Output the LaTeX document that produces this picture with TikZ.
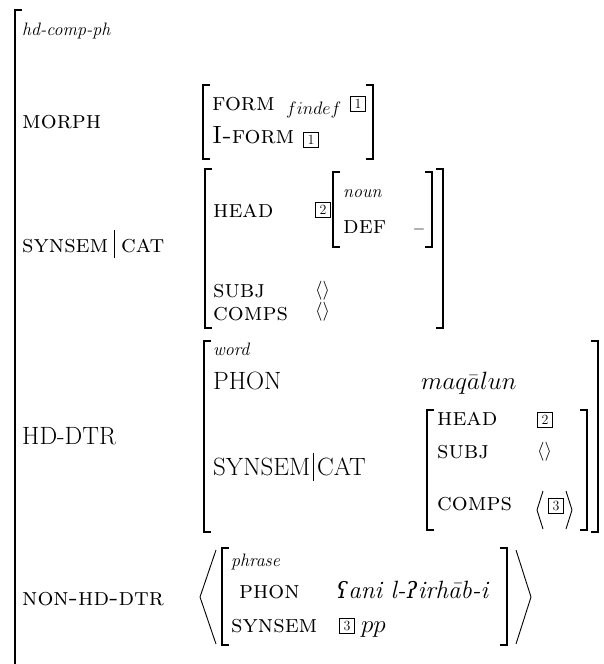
\RequirePackage{fix-cm}
\documentclass[tikz,border=0pt]{standalone}
\usepackage{fontspec}
\newfontfamily\ipafont[Scale=0.9]{DejaVu Serif}
\newcommand{\bigsz}{\fontsize{25}{29}\selectfont}
\newcommand{\typsz}{\fontsize{18}{20}\selectfont}
\newcommand{\vbar}{\rule[-6pt]{0.8pt}{28pt}}
\tikzset{
  lbl/.style={anchor=base west, inner sep=0pt, font=\bigsz\scshape},
  capl/.style={anchor=base west, inner sep=0pt, font=\bigsz},
  typ/.style={anchor=base west, inner sep=0pt, font=\typsz\itshape},
  tagbox/.style={draw, line width=0.6pt, inner sep=0pt, minimum width=15pt, minimum height=15pt, font=\fontsize{14}{15}\selectfont},
  brk/.style={line width=1.2pt},
  ang/.style={line width=0.9pt},
  lst/.style={anchor=base west, inner sep=0pt, font=\fontsize{19}{20}\selectfont},
}
\begin{document}
\begin{tikzpicture}[x=1pt,y=-1pt]
\useasboundingbox (0,0) rectangle (603,664);
% outer bracket
\draw[brk] (22,10) -- (15,10) -- (15,664);
\node[typ] (t0) at (22,35) {hd-comp-ph};
% MORPH
\node[lbl] (morph) at (22,128) {morph};
\draw[brk] (210,85) -- (203,85) -- (203,159) -- (210,159);
\draw[brk] (366,85) -- (373,85) -- (373,159) -- (366,159);
\node[lbl] (form) at (212,110) {form};
\node[anchor=base west, inner sep=0pt, font=\typsz] (findef) at (286,114) {$findef$};
\node[tagbox] (tg1a) at (358,104) {1};
\node[lbl] (iform) at (212,143) {I-form};
\node[tagbox] (tg1b) at (311,140) {1};
% SYNSEM|CAT
\node[lbl] (sc1) at (22,252) {synsem\hspace{6pt}\vbar\hspace{6pt}cat};
\draw[brk] (212,169) -- (205,169) -- (205,328) -- (212,328);
\draw[brk] (436,169) -- (443,169) -- (443,328) -- (436,328);
\node[lbl] (head1) at (213,217) {head};
\node[tagbox] (tg2a) at (323,210) {2};
\draw[brk] (340,172) -- (333,172) -- (333,247) -- (340,247);
\draw[brk] (425,172) -- (432,172) -- (432,247) -- (425,247);
\node[typ] (noun) at (343,197) {noun};
\node[lbl] (def) at (343,233) {def};
\node[anchor=base, inner sep=0pt, font=\fontsize{16}{18}\selectfont] (minus) at (419,233) {$-$};
\node[lbl] (subj1) at (213,297) {subj};
\node[lst] (l1) at (315,295) {$\langle\rangle$};
\node[lbl] (comps1) at (213,320) {comps};
\node[lst] (l2) at (315,316) {$\langle\rangle$};
% HD-DTR
\node[capl] (hd) at (22,444) {HD-DTR};
\draw[brk] (211,341) -- (204,341) -- (204,532) -- (211,532);
\draw[brk] (591,341) -- (598,341) -- (598,532) -- (591,532);
\node[typ] (word) at (213,355) {word};
\node[capl] (phon1) at (213,389) {PHON};
\node[capl] (maq) at (421,389) {$maq\bar{a}lun$};
\node[capl] (sc2) at (213,475) {SYNSEM\hspace{3pt}\vbar\hspace{3pt}CAT};
\draw[brk] (434,410) -- (427,410) -- (427,530) -- (434,530);
\draw[brk] (580,410) -- (587,410) -- (587,530) -- (580,530);
\node[lbl] (head2) at (437,425) {head};
\node[tagbox] (tg2b) at (545,420) {2};
\node[lbl] (subj2) at (437,458) {subj};
\node[lst] (l3) at (537,456) {$\langle\rangle$};
\node[lbl] (comps2) at (437,510) {comps};
\node[tagbox] (tg3a) at (556,506) {3};
\draw[ang] (543,491) -- (537,510) -- (543,529);
\draw[ang] (566,491) -- (572,510) -- (566,529);
% NON-HD-DTR
\node[lbl] (nhd) at (22,605) {non-hd-dtr};
\draw[ang] (216,550) -- (200,597) -- (216,644);
\draw[brk] (229,548) -- (222,548) -- (222,645) -- (229,645);
\draw[brk] (500,548) -- (507,548) -- (507,645) -- (500,645);
\draw[ang] (516,550) -- (531,597) -- (516,644);
\node[typ] (phrase) at (231,566) {phrase};
\node[lbl] (phon2) at (239,598) {phon};
\node[capl, font=\bigsz\itshape] (arab) at (336,598) {{\ipafont ʕ}ani l-{\ipafont ʔ}irhāb-i};
\node[lbl] (ss2) at (231,632) {synsem};
\node[tagbox] (tg3b) at (347,626) {3};
\node[capl] (pp) at (361,632) {$pp$};
\end{tikzpicture}
\end{document}
